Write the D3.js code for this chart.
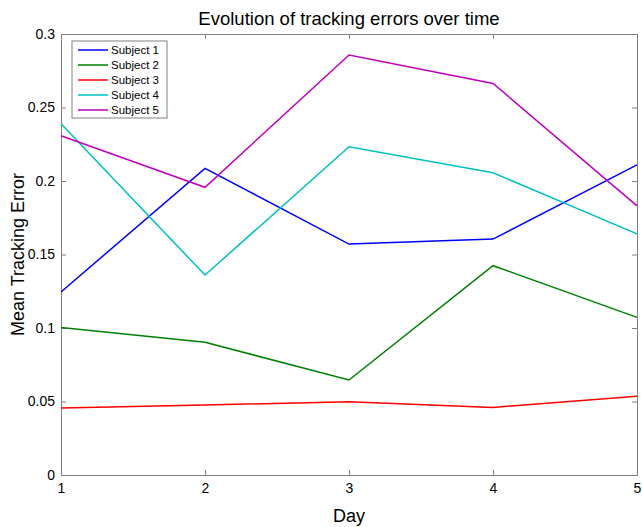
<!DOCTYPE html>
<html lang="en">
<head>
<meta charset="UTF-8">
<title>Tracking errors</title>
<script src="https://cdn.jsdelivr.net/npm/d3@7"></script>
<style>
  body { margin: 0; background: #fff; }
  text { font-family: "Liberation Sans", Arial, sans-serif; fill: #000; }
</style>
</head>
<body>
<script>
// data
var days = [1, 2, 3, 4, 5];
var subjects = ["Subject 1", "Subject 2", "Subject 3", "Subject 4", "Subject 5"];
var subject1 = [0.1245, 0.2086, 0.1571, 0.1605, 0.2110];
var subject2 = [0.1003, 0.0903, 0.0646, 0.1424, 0.1072];
var subject3 = [0.0455, 0.0476, 0.0499, 0.0460, 0.0536];
var subject4 = [0.2390, 0.1360, 0.2233, 0.2056, 0.1640];
var subject5 = [0.2308, 0.1957, 0.2857, 0.2664, 0.1831];
var yTicks = [0, 0.05, 0.1, 0.15, 0.2, 0.25, 0.3];
var colors = ["#0000ff", "#008000", "#ff0000", "#00bfbf", "#bf00bf"];

var series = [subject1, subject2, subject3, subject4, subject5];

var width = 642, height = 527;
var margin = {top: 34, right: 5, bottom: 52, left: 61};

var svg = d3.select("body").append("svg")
  .attr("width", width)
  .attr("height", height);

var x = d3.scaleLinear().domain([1, 5]).range([margin.left, width - margin.right]);
var y = d3.scaleLinear().domain([0, 0.3]).range([height - margin.bottom, margin.top]);

// axes box, ticks pointing inwards
var axisColor = "#808080";
var xBottom = d3.axisBottom(x).tickValues(days).tickSize(-5).tickPadding(8).tickFormat(d3.format("d"));
var xTop = d3.axisTop(x).tickValues(days).tickSize(-5).tickFormat("");
var yLeft = d3.axisLeft(y).tickValues(yTicks).tickSize(-5).tickPadding(6).tickFormat(function(d) { return d === 0 ? "0" : String(+d.toFixed(2)); });
var yRight = d3.axisRight(y).tickValues(yTicks).tickSize(-5).tickFormat("");

function style(g) {
  g.select(".domain").attr("stroke", axisColor);
  g.selectAll(".tick line").attr("stroke", axisColor);
  g.selectAll(".tick text").style("font-size", "14px").attr("fill", "#000");
}

svg.append("g").attr("transform", "translate(0," + y(0) + ")").call(xBottom).call(style);
svg.append("g").attr("transform", "translate(0," + y(0.3) + ")").call(xTop).call(style);
svg.append("g").attr("transform", "translate(" + x(1) + ",0)").call(yLeft).call(style);
svg.append("g").attr("transform", "translate(" + x(5) + ",0)").call(yRight).call(style);

// lines
var line = d3.line()
  .x(function(d, i) { return x(days[i]); })
  .y(function(d) { return y(d); });

svg.selectAll(".series")
  .data(series)
  .enter().append("path")
  .attr("class", "series")
  .attr("fill", "none")
  .attr("stroke", function(d, i) { return colors[i]; })
  .attr("stroke-width", 1.5)
  .attr("d", line);

// titles
svg.append("text")
  .attr("x", (x(1) + x(5)) / 2)
  .attr("y", 25)
  .attr("text-anchor", "middle")
  .style("font-size", "18.5px")
  .text("Evolution of tracking errors over time");

svg.append("text")
  .attr("x", (x(1) + x(5)) / 2)
  .attr("y", 522)
  .attr("text-anchor", "middle")
  .style("font-size", "18px")
  .text("Day");

svg.append("text")
  .attr("transform", "translate(24," + (y(0) + y(0.3)) / 2 + ") rotate(-90)")
  .attr("text-anchor", "middle")
  .style("font-size", "18px")
  .text("Mean Tracking Error");

// legend
var legend = svg.append("g").attr("transform", "translate(72,41)");
legend.append("rect")
  .attr("width", 95).attr("height", 77)
  .attr("fill", "#fff").attr("stroke", axisColor);

var item = legend.selectAll(".item")
  .data(subjects)
  .enter().append("g")
  .attr("transform", function(d, i) { return "translate(0," + (9 + i * 15) + ")"; });

item.append("line")
  .attr("x1", 6).attr("x2", 36)
  .attr("stroke", function(d, i) { return colors[i]; })
  .attr("stroke-width", 1.5);

item.append("text")
  .attr("x", 39).attr("dy", "0.35em")
  .style("font-size", "11.5px")
  .text(function(d) { return d; });
</script>
</body>
</html>
